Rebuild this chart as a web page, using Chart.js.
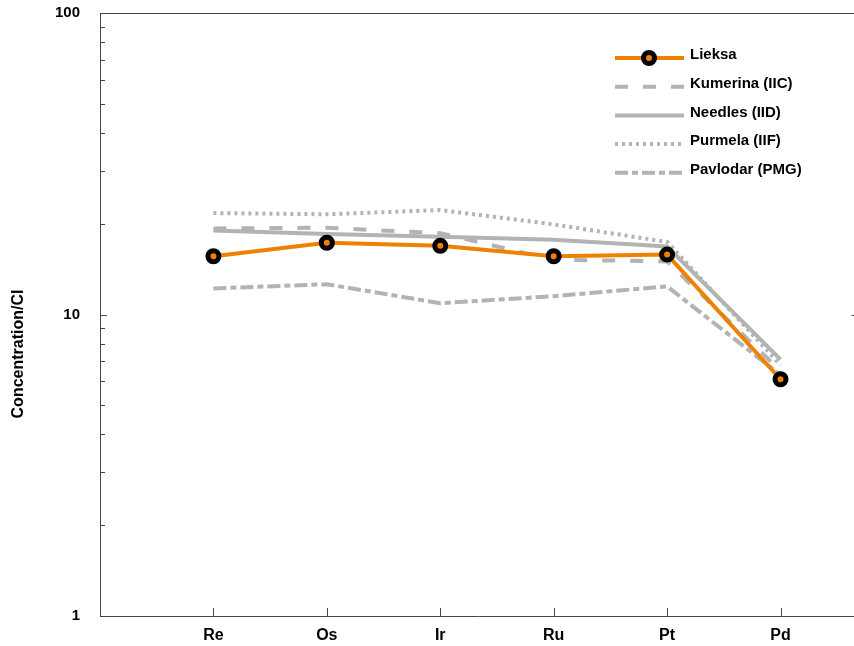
<!DOCTYPE html>
<html>
<head>
<meta charset="utf-8">
<script src="https://cdn.jsdelivr.net/npm/chart.js@4.4.0/dist/chart.umd.min.js"></script>
<style>
    html, body { margin: 0; padding: 0; overflow: hidden; background: #fff; }
    #wrap { width: 867px; height: 646px; }
</style>
</head>
<body>
<div id="wrap"><canvas id="pgeChart" width="867" height="646"></canvas></div>
<script>
// Element order along the x axis
const elements = ['Re', 'Os', 'Ir', 'Ru', 'Pt', 'Pd'];

// Concentration / CI chondrite values
const lieksa   = [15.6, 17.3, 16.9, 15.6, 15.8, 6.1];
const kumerina = [19.3, 19.4, 18.6, 15.2, 15.0, 6.5];
const needles  = [19.0, 18.5, 18.1, 17.7, 16.8, 7.1];
const purmela  = [21.7, 21.5, 22.2, 19.9, 17.4, 6.8];
const pavlodar = [12.2, 12.6, 10.9, 11.5, 12.4, 6.3];

// y ticks (log), only decades get a label
const yTicks = [1, 2, 3, 4, 5, 6, 7, 8, 9, 10, 20, 30, 40, 50, 60, 70, 80, 90, 100];
const yLabels = [1, 10, 100];

const ORANGE = '#f08000';
const GREY = '#b3b3b3';
const FONT = '"Liberation Sans", Arial, sans-serif';

Chart.defaults.font.family = FONT;
Chart.defaults.color = '#000';

const toPoints = (vals) => vals.map((v, i) => ({ x: i + 1, y: v }));

// inward tick marks, frame, y title and legend
const framePlugin = {
    id: 'frame',
    afterDraw(chart) {
        const ctx = chart.ctx;
        const area = chart.chartArea;
        const xs = chart.scales.x;
        const ys = chart.scales.y;

        ctx.save();
        ctx.strokeStyle = '#444';
        ctx.lineWidth = 1;
        ctx.beginPath();
        // top and right edge
        ctx.moveTo(area.left, area.top + 0.5);
        ctx.lineTo(area.right, area.top + 0.5);
        ctx.moveTo(area.right - 0.5, area.top);
        ctx.lineTo(area.right - 0.5, area.bottom);
        // y ticks
        yTicks.forEach(v => {
            const y = Math.round(ys.getPixelForValue(v)) + 0.5;
            const len = yLabels.includes(v) ? 7 : 5;
            ctx.moveTo(area.left, y);
            ctx.lineTo(area.left + len, y);
        });
        const y10 = Math.round(ys.getPixelForValue(10)) + 0.5;
        ctx.moveTo(area.right, y10);
        ctx.lineTo(area.right - 5, y10);
        // x ticks
        elements.forEach((e, i) => {
            const x = Math.round(xs.getPixelForValue(i + 1)) + 0.5;
            ctx.moveTo(x, area.bottom);
            ctx.lineTo(x, area.bottom - 8);
        });
        ctx.stroke();

        // y axis title
        ctx.fillStyle = '#000';
        ctx.font = 'bold 16px ' + FONT;
        ctx.textAlign = 'center';
        ctx.textBaseline = 'middle';
        ctx.translate(19, 354);
        ctx.rotate(-Math.PI / 2);
        ctx.fillText('Concentration/CI', 0, 0);
        ctx.restore();

        // legend
        ctx.save();
        chart.data.datasets.forEach((ds, i) => {
            const y = 58 + i * 28.7;
            ctx.strokeStyle = ds.borderColor;
            ctx.lineWidth = ds.borderWidth;
            ctx.setLineDash(ds.borderDash || []);
            ctx.beginPath();
            ctx.moveTo(615, y);
            ctx.lineTo(684, y);
            ctx.stroke();
            ctx.setLineDash([]);
            if (ds.pointRadius > 0) {
                ctx.beginPath();
                ctx.arc(649, y, ds.pointRadius, 0, Math.PI * 2);
                ctx.fillStyle = ds.pointBackgroundColor;
                ctx.fill();
                ctx.lineWidth = ds.pointBorderWidth;
                ctx.strokeStyle = ds.pointBorderColor;
                ctx.stroke();
            }
            ctx.fillStyle = '#000';
            ctx.font = 'bold 15px ' + FONT;
            ctx.textAlign = 'left';
            ctx.textBaseline = 'middle';
            ctx.fillText(ds.label, 690, y - 3);
        });
        ctx.restore();
    }
};

const greyLine = (label, vals, dash) => ({
    label: label,
    data: toPoints(vals),
    borderColor: GREY,
    borderWidth: 4,
    borderDash: dash,
    pointRadius: 0,
    tension: 0,
    fill: false
});

const noPad = (scale) => {
    scale.paddingTop = 0;
    scale.paddingBottom = 0;
    scale.paddingLeft = 0;
    scale.paddingRight = 0;
};

new Chart(document.getElementById('pgeChart'), {
    type: 'line',
    data: {
        datasets: [
            {
                label: 'Lieksa',
                data: toPoints(lieksa),
                borderColor: ORANGE,
                borderWidth: 4,
                pointRadius: 5.5,
                pointBorderWidth: 5,
                pointBorderColor: '#000',
                pointBackgroundColor: ORANGE,
                tension: 0,
                fill: false
            },
            greyLine('Kumerina (IIC)', kumerina, [13, 15]),
            greyLine('Needles (IID)', needles, []),
            greyLine('Purmela (IIF)', purmela, [3, 4]),
            greyLine('Pavlodar (PMG)', pavlodar, [13, 4, 6, 4])
        ]
    },
    options: {
        responsive: false,
        animation: false,
        layout: { padding: { top: 13, right: 2, bottom: 0, left: 0 } },
        plugins: {
            legend: { display: false },
            tooltip: { enabled: false }
        },
        scales: {
            x: {
                type: 'linear',
                min: 0,
                max: 6.67,
                afterBuildTicks: (scale) => {
                    scale.ticks = elements.map((e, i) => ({ value: i + 1 }));
                },
                afterFit: (scale) => { scale.height = 30; noPad(scale); },
                grid: { display: false, drawTicks: false },
                border: { display: true, color: '#444', width: 1 },
                ticks: {
                    autoSkip: false,
                    maxRotation: 0,
                    padding: 10,
                    color: '#000',
                    font: { size: 16, weight: 'bold' },
                    callback: (value, index) => elements[index]
                }
            },
            y: {
                type: 'logarithmic',
                min: 1,
                max: 100,
                afterBuildTicks: (scale) => {
                    scale.ticks = yTicks.map(v => ({ value: v }));
                },
                afterFit: (scale) => { scale.width = 100; noPad(scale); },
                grid: { display: false, drawTicks: false },
                border: { display: true, color: '#444', width: 1 },
                ticks: {
                    autoSkip: false,
                    padding: 20,
                    color: '#000',
                    font: { size: 15, weight: 'bold' },
                    callback: (value) => yLabels.includes(value) ? String(value) : ''
                }
            }
        }
    },
    plugins: [framePlugin]
});
</script>
</body>
</html>
